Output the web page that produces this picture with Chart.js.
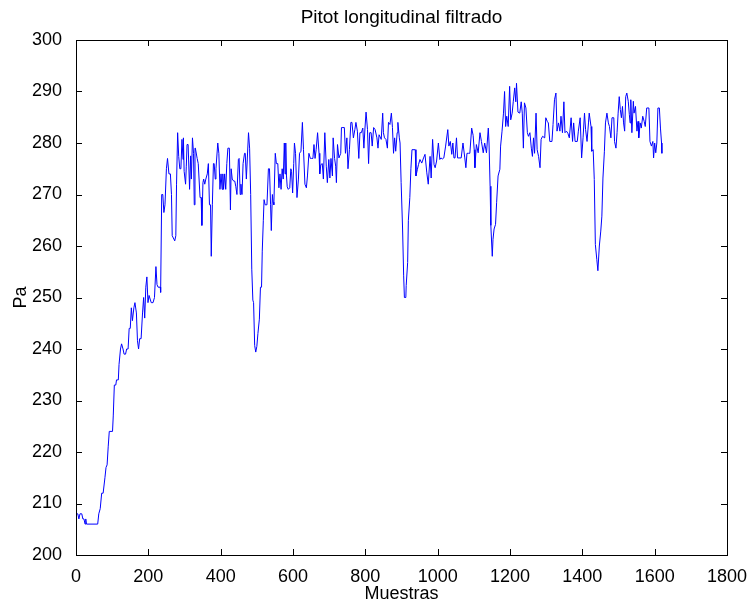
<!DOCTYPE html>
<html>
<head>
<meta charset="utf-8">
<script src="https://cdn.jsdelivr.net/npm/chart.js@4/dist/chart.umd.min.js"></script>
<style>
  body { margin: 0; background: #fff; }
  #c { display: block; }
</style>
</head>
<body>
<canvas id="c" width="755" height="610"></canvas>
<script>
// muestras (indice) y presion filtrada (Pa)
var muestras = [
  0, 5, 8, 11, 16, 19, 22, 25, 27, 29, 60, 63, 67, 71, 75, 80, 83, 86, 89, 92,
  101, 103, 106, 110, 112, 117, 119, 123, 126, 130, 133, 137, 140, 144, 147, 150, 153, 156, 160, 163,
  167, 170, 173, 176, 180, 184, 187, 190, 193, 196, 199, 202, 208, 213, 217, 221, 224, 227, 233, 234,
  237, 240, 243, 246, 250, 253, 257, 261, 264, 266, 273, 276, 278, 281, 284, 287, 290, 293, 296, 297,
  299, 303, 305, 307, 310, 314, 317, 319, 322, 325, 327, 329, 330, 335, 338, 340, 343, 346, 348, 351,
  353, 356, 359, 363, 366, 369, 372, 374, 377, 380, 382, 385, 387, 392, 395, 398, 401, 404, 406, 408,
  411, 414, 417, 420, 424, 427, 429, 432, 436, 439, 442, 445, 449, 451, 454, 456, 459, 462, 466, 468,
  471, 477, 480, 483, 486, 489, 491, 494, 497, 500, 503, 507, 510, 513, 515, 518, 520, 523, 528, 532,
  535, 538, 540, 543, 545, 547, 551, 554, 558, 561, 564, 567, 570, 573, 576, 578, 580, 582, 584, 587,
  591, 594, 596, 599, 602, 604, 607, 611, 615, 618, 622, 626, 629, 633, 637, 640, 644, 648, 651, 655,
  658, 661, 664, 668, 672, 674, 677, 681, 684, 688, 692, 695, 699, 702, 705, 709, 711, 715, 718, 720,
  723, 727, 732, 734, 738, 742, 745, 749, 752, 756, 760, 763, 767, 771, 774, 778, 782, 785, 789, 793,
  796, 799, 802, 806, 809, 812, 816, 819, 823, 827, 832, 835, 838, 844, 848, 850, 853, 857, 861, 864,
  868, 872, 875, 878, 881, 884, 888, 890, 894, 896, 899, 903, 906, 908, 912, 913, 917, 919, 923, 926,
  929, 938, 940, 944, 947, 951, 956, 961, 965, 970, 974, 979, 982, 986, 990, 993, 997, 1002, 1006, 1009,
  1013, 1017, 1022, 1028, 1031, 1035, 1039, 1042, 1045, 1048, 1052, 1055, 1059, 1065, 1070, 1075, 1078, 1081, 1085, 1089,
  1094, 1098, 1101, 1103, 1107, 1112, 1117, 1121, 1126, 1130, 1135, 1140, 1142, 1145, 1147, 1151, 1153, 1156, 1160, 1163,
  1167, 1172, 1174, 1178, 1182, 1185, 1188, 1191, 1195, 1199, 1202, 1206, 1209, 1213, 1216, 1218, 1222, 1227, 1231, 1234,
  1237, 1240, 1244, 1248, 1251, 1255, 1259, 1262, 1265, 1268, 1272, 1275, 1279, 1283, 1286, 1290, 1296, 1299, 1303, 1306,
  1310, 1316, 1319, 1323, 1327, 1330, 1334, 1338, 1341, 1345, 1349, 1352, 1356, 1360, 1364, 1369, 1373, 1376, 1380, 1386,
  1389, 1394, 1398, 1402, 1406, 1409, 1413, 1417, 1419, 1424, 1426, 1430, 1433, 1436, 1440, 1443, 1447, 1451, 1454, 1457,
  1461, 1464, 1468, 1472, 1475, 1479, 1482, 1487, 1489, 1493, 1496, 1499, 1502, 1505, 1508, 1511, 1514, 1517, 1520, 1523,
  1527, 1530, 1532, 1534, 1537, 1541, 1543, 1547, 1551, 1554, 1556, 1560, 1563, 1567, 1571, 1574, 1578, 1584, 1587, 1591,
  1595, 1597, 1600, 1603, 1606, 1609, 1613, 1616, 1619, 1620
];
var presion = [
  208, 208, 207, 208, 208, 207, 207, 206, 207, 206, 206, 208, 209, 212, 212, 215, 217, 217.5, 221, 224,
  224, 227, 233, 233, 234, 234, 237, 240, 241, 240, 239, 239, 240, 240, 244, 244, 248, 245.5, 248, 249,
  247, 241.6, 240, 242, 242, 247, 250, 246, 252, 254, 249, 250.4, 249, 249, 250, 256, 252.5, 252, 252, 251,
  270, 270, 266.5, 268, 275, 277, 274, 274, 270, 262, 261, 262, 272, 282, 277.4, 275, 275, 280.7, 276.8, 281,
  274.5, 272, 275.5, 279.7, 279.7, 271, 277.5, 273, 281, 278, 268, 279, 279, 277, 276, 276, 269.4, 269.4, 264, 272.3,
  273, 272, 273, 274, 276, 268, 268, 258, 268, 276, 276, 273, 275, 280, 278, 271, 274, 271, 274, 271,
  274, 271, 276, 279, 279, 267, 275, 273, 272.6, 272.6, 271.5, 270, 276.8, 277, 270, 272, 270, 276, 278, 278,
  273, 282, 279, 270, 255.5, 249.5, 249, 240.7, 239.4, 240.5, 243, 245.8, 252, 252, 259, 265, 269, 268, 268, 275,
  275, 268, 263, 270, 268.5, 268, 278, 276, 276, 271.3, 274, 271, 275, 273, 280, 274, 280, 273.6, 271.5, 271,
  271.3, 275, 274.5, 270.3, 276, 280, 278, 269.4, 273, 278, 278.4, 284, 278.7, 272, 271.3, 273.6, 278, 277, 277, 277,
  279.7, 277, 278.7, 282, 278, 274, 275.8, 276, 273, 282, 275.5, 272.3, 276.8, 273.2, 277, 273.6, 281, 277, 275.5, 272.3,
  279.7, 277.1, 278, 283, 283, 283, 278, 281, 275, 278.7, 284, 284, 281, 282.6, 284, 282.3, 277, 282, 282, 282.9,
  279, 282.9, 286, 282.6, 276, 282, 282, 279.4, 283, 282.6, 281, 279, 281.6, 280.7, 285.8, 282, 281, 280.7, 279, 284,
  283.6, 285.8, 283, 278, 281, 278.4, 282, 284, 281, 280, 272.3, 263.3, 254.2, 250, 250, 252.3, 256.8, 265, 269.4, 275,
  278.7, 278.7, 273.6, 274.9, 275.8, 276.8, 276.1, 277.1, 277.8, 274.2, 272, 277.4, 273.2, 280.7, 275.8, 275.2, 276.5, 280, 276.8, 277.1,
  276.9, 277.1, 279.4, 282.6, 279.4, 280.3, 277.8, 280, 277.1, 277.1, 281, 277.1, 277.1, 277.1, 280, 277.1, 275.2, 278, 278, 278,
  282.9, 281.5, 278.7, 275.2, 279.7, 278.1, 282, 280.3, 278.1, 280, 278.1, 282.9, 280, 271.6, 264, 258, 261.3, 263.3, 264.2, 268.4,
  273.6, 274.9, 279.4, 282.3, 285.8, 290, 283.2, 285.2, 283.2, 291, 284.5, 285.8, 288, 290.7, 288, 291.6, 286, 285.8, 288, 285.8,
  279, 287.8, 286.8, 282, 281.3, 282, 279, 277.4, 281, 278, 285.8, 278.7, 277.4, 275.2, 280.7, 281.3, 281, 284.9, 284.2, 283.9,
  280.3, 280.3, 283.6, 288.4, 289.7, 282.3, 283.9, 282.3, 285.2, 282, 288, 282, 282.3, 281.9, 281, 284.9, 280.3, 283.9, 280.3, 280.3,
  282.3, 284.9, 277.1, 281, 285.8, 282.6, 280.3, 283.9, 285.8, 283.2, 278.4, 278.7, 272.9, 260.3, 257.4, 255.2, 260, 262.9, 265.8, 273.2,
  278.4, 283.9, 285.8, 283.9, 283.2, 281, 284.9, 284.9, 280.3, 279, 282, 285.8, 289, 286.5, 284.9, 287.1, 283.9, 282.3, 289, 289.7,
  288.1, 285.5, 283.9, 288.4, 282, 288.1, 285.8, 287.1, 282.3, 284.2, 281, 283.9, 282.9, 285.2, 284.2, 283.2, 286.8, 286.8, 280.3, 279.4,
  280.3, 277.1, 280, 278.1, 280, 286.8, 286.8, 282.9, 280, 278
];
var xTicks = [0, 200, 400, 600, 800, 1000, 1200, 1400, 1600, 1800];
var yTicks = [200, 210, 220, 230, 240, 250, 260, 270, 280, 290, 300];

var fuente = "'Liberation Sans', Arial, Helvetica, sans-serif";

var puntos = muestras.map(function(m, i) { return { x: m, y: presion[i] }; });

// marcas hacia dentro en los cuatro lados + caja (estilo matlab)
var cajaMatlab = {
  id: 'cajaMatlab',
  afterDraw: function(chart) {
    var ctx = chart.ctx, a = chart.chartArea;
    var sx = chart.scales.x, sy = chart.scales.y;
    ctx.save();
    ctx.strokeStyle = '#000';
    ctx.lineWidth = 1;
    ctx.beginPath();
    sx.ticks.forEach(function(t, i) {
      var px = Math.round(sx.getPixelForTick(i)) + 0.5;
      ctx.moveTo(px, a.bottom); ctx.lineTo(px, a.bottom - 6);
      ctx.moveTo(px, a.top); ctx.lineTo(px, a.top + 6);
    });
    sy.ticks.forEach(function(t, i) {
      var py = Math.round(sy.getPixelForTick(i)) + 0.5;
      ctx.moveTo(a.left, py); ctx.lineTo(a.left + 6, py);
      ctx.moveTo(a.right, py); ctx.lineTo(a.right - 6, py);
    });
    ctx.stroke();
    ctx.strokeRect(Math.round(a.left) + 0.5, Math.round(a.top) + 0.5,
                   Math.round(a.right - a.left), Math.round(a.bottom - a.top));
    ctx.restore();
  }
};

function sinComas(v) { return String(v); }

new Chart(document.getElementById('c').getContext('2d'), {
  type: 'line',
  data: {
    datasets: [{
      data: puntos,
      borderColor: '#0000ff',
      borderWidth: 1,
      pointRadius: 0,
      tension: 0,
      fill: false
    }]
  },
  options: {
    responsive: false,
    animation: false,
    devicePixelRatio: 1,
    layout: { padding: { left: 0, right: 28, top: 0, bottom: 0 } },
    plugins: {
      legend: { display: false },
      tooltip: { enabled: false },
      title: {
        display: true,
        fullSize: false,
        text: 'Pitot longitudinal filtrado',
        color: '#000',
        font: { family: fuente, size: 19, weight: 'normal' },
        padding: { top: 6, bottom: 11.2 }
      }
    },
    scales: {
      x: {
        type: 'linear',
        min: 0, max: 1800,
        afterBuildTicks: function(s) { s.ticks = xTicks.map(function(v) { return { value: v }; }); },
        afterFit: function(s) { s.height = 55; },
        grid: { display: false },
        border: { display: false },
        ticks: { color: '#000', padding: 3, maxRotation: 0, callback: sinComas, font: { family: fuente, size: 18 } },
        title: { display: true, text: 'Muestras', color: '#000', padding: 5, font: { family: fuente, size: 18 } }
      },
      y: {
        type: 'linear',
        min: 200, max: 300,
        afterBuildTicks: function(s) { s.ticks = yTicks.map(function(v) { return { value: v }; }); },
        afterFit: function(s) { s.width = 76; },
        grid: { display: false },
        border: { display: false },
        ticks: { color: '#000', padding: 6, callback: sinComas, font: { family: fuente, size: 18 } },
        title: { display: true, text: 'Pa', color: '#000', padding: 10, font: { family: fuente, size: 18 } }
      }
    }
  },
  plugins: [cajaMatlab]
});
</script>
</body>
</html>
